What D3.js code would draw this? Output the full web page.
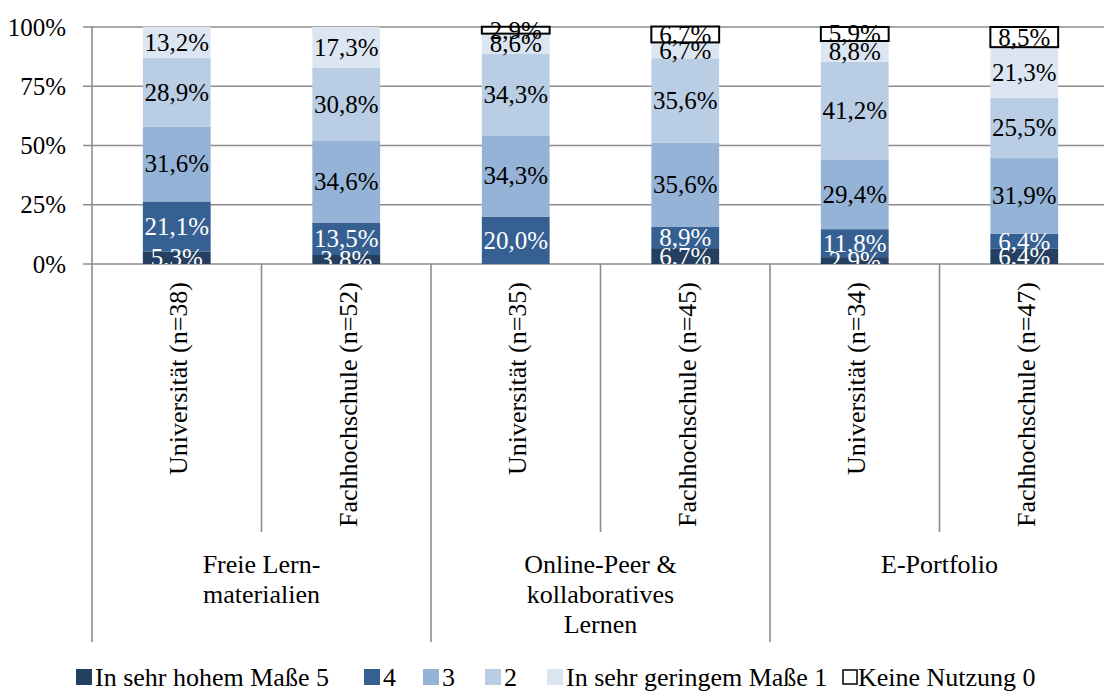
<!DOCTYPE html>
<meta charset="utf-8">
<head>
	<title>Nutzung digitaler Lernformen</title>
	<script type="text/javascript" src="https://cdn.jsdelivr.net/npm/d3@7"></script>
	<style>
		body { margin: 0; background: #fff; }
		svg text { font-family: "Liberation Serif", "Times New Roman", serif; }
	</style>
</head>

<body>
    <div id="chart"></div>

    <script>
		// values (percent)
		const subLabels = ["Universität (n=38)", "Fachhochschule (n=52)", "Universität (n=35)",
		                   "Fachhochschule (n=45)", "Universität (n=34)", "Fachhochschule (n=47)"];
		const groupLabels = [["Freie Lern-", "materialien"], ["Online-Peer &", "kollaboratives", "Lernen"], ["E-Portfolio"]];
		const seriesNames = ["In sehr hohem Maße 5", "4", "3", "2", "In sehr geringem Maße 1", "Keine Nutzung 0"];
		const s5 = [5.3, 3.8, 0, 6.7, 2.9, 6.4];
		const s4 = [21.1, 13.5, 20.0, 8.9, 11.8, 6.4];
		const s3 = [31.6, 34.6, 34.3, 35.6, 29.4, 31.9];
		const s2 = [28.9, 30.8, 34.3, 35.6, 41.2, 25.5];
		const s1 = [13.2, 17.3, 8.6, 6.7, 8.8, 21.3];
		const s0 = [0, 0, 2.9, 6.7, 5.9, 8.5];
		const yTicks = [0, 25, 50, 75, 100];

		const colors = ["#243f60", "#366092", "#95b3d7", "#b9cde5", "#dce6f2", "#ffffff"];
		const labelColors = ["#fff", "#fff", "#000", "#000", "#000", "#000"];

		const width = 1104;
		const height = 694;
		const pLeft = 92, pRight = 1109, pTop = 27, pBottom = 264;
		const gridColor = "#8c8c8c";
		// legend marker positions (layout)
		const legendX = [76, 364, 423, 485, 547, 842];

		const svg = d3.select("#chart")
		    .append("svg")
		    .attr("width", width)
		    .attr("height", height);

		const keys = ["s5", "s4", "s3", "s2", "s1", "s0"];
		const allSeries = [s5, s4, s3, s2, s1, s0];
		const table = subLabels.map((name, i) => {
			const row = { name: name, idx: i };
			keys.forEach((k, j) => row[k] = allSeries[j][i]);
			return row;
		});

		const x = d3.scaleBand().domain(d3.range(subLabels.length)).range([pLeft, pRight]);
		const y = d3.scaleLinear().domain([0, 100]).range([pBottom, pTop]);
		const bw = x.bandwidth() * 0.4;

		const de = d3.formatLocale({ decimal: ",", thousands: ".", grouping: [3], currency: ["", "€"] });
		const fmt = de.format(".1f");

		// gridlines + y axis
		svg.append("g")
		    .selectAll("line")
		    .data(yTicks)
		    .enter().append("line")
		    .attr("x1", pLeft - 9).attr("x2", pRight)
		    .attr("y1", d => y(d)).attr("y2", d => y(d))
		    .attr("stroke", gridColor).attr("stroke-width", 1.6);

		svg.append("g")
		    .selectAll("text")
		    .data(yTicks)
		    .enter().append("text")
		    .attr("x", 66)
		    .attr("y", d => y(d))
		    .attr("dy", "0.34em")
		    .attr("text-anchor", "end")
		    .attr("font-size", "25px")
		    .text(d => d + "%");

		svg.append("line")
		    .attr("x1", pLeft).attr("x2", pLeft)
		    .attr("y1", pTop).attr("y2", 642)
		    .attr("stroke", gridColor).attr("stroke-width", 1.6);

		// category separators
		d3.range(1, subLabels.length).forEach(i => {
			svg.append("line")
			    .attr("x1", x(i)).attr("x2", x(i))
			    .attr("y1", pBottom).attr("y2", i % 2 == 0 ? 642 : 532)
			    .attr("stroke", gridColor).attr("stroke-width", 1.6);
		});

		// stacked bars
		const stack = d3.stack().keys(keys);
		const layers = stack(table);

		svg.append("defs").append("clipPath").attr("id", "plotclip")
		    .append("rect").attr("x", 0).attr("y", 0).attr("width", width).attr("height", pBottom);

		layers.forEach((layer, j) => {
			const g = svg.append("g");
			g.selectAll("rect")
			    .data(layer.filter(d => d[1] - d[0] > 0))
			    .enter().append("rect")
			    .attr("x", d => x(d.data.idx) + (x.bandwidth() - bw) / 2)
			    .attr("width", bw)
			    .attr("y", d => y(d[1]))
			    .attr("height", d => y(d[0]) - y(d[1]))
			    .attr("fill", colors[j])
			    .attr("stroke", j == 5 ? "#000" : "none")
			    .attr("stroke-width", j == 5 ? 2 : 0);
		});

		layers.forEach((layer, j) => {
			svg.append("g")
			    .attr("clip-path", "url(#plotclip)")
			    .selectAll("text")
			    .data(layer.filter(d => d[1] - d[0] > 0))
			    .enter().append("text")
			    .attr("x", d => x(d.data.idx) + x.bandwidth() / 2)
			    .attr("y", d => (y(d[0]) + y(d[1])) / 2)
			    .attr("dy", "0.34em")
			    .attr("text-anchor", "middle")
			    .attr("font-size", "25px")
			    .attr("fill", labelColors[j])
			    .text(d => fmt(d[1] - d[0]) + "%");
		});

		// sub category labels (rotated)
		svg.append("g")
		    .selectAll("text")
		    .data(subLabels)
		    .enter().append("text")
		    .attr("transform", (d, i) => `translate(${x(i) + x.bandwidth() / 2},282) rotate(-90)`)
		    .attr("dy", "0.4em")
		    .attr("text-anchor", "end")
		    .attr("font-size", "26px")
		    .text(d => d);

		// group labels
		groupLabels.forEach((lines, gi) => {
			const cx = x(gi * 2) + x.bandwidth();
			const t = svg.append("text")
			    .attr("text-anchor", "middle")
			    .attr("font-size", "26px");
			lines.forEach((ln, k) => {
				t.append("tspan").attr("x", cx).attr("y", 573 + k * 30).text(ln);
			});
		});

		// legend
		seriesNames.forEach((name, j) => {
			const outlined = j == 5;
			const lx = legendX[j];
			svg.append("rect")
			    .attr("x", outlined ? lx + 1 : lx)
			    .attr("y", outlined ? 670 : 669)
			    .attr("width", outlined ? 14 : 16)
			    .attr("height", outlined ? 14 : 16)
			    .attr("fill", colors[j])
			    .attr("stroke", outlined ? "#000" : "none")
			    .attr("stroke-width", 1.5);
			svg.append("text")
			    .attr("x", lx + (outlined ? 16 : 19))
			    .attr("y", 686)
			    .attr("font-size", "26px")
			    .text(name);
		});
    </script>

</body>

</html>
